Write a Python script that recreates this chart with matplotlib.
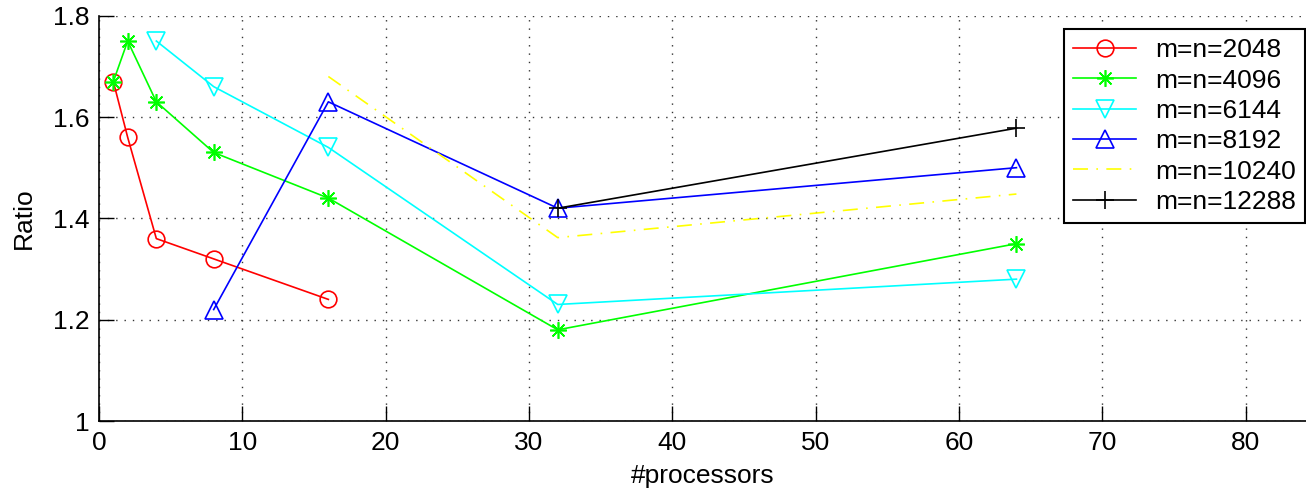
import matplotlib
matplotlib.use("Agg")
import matplotlib.pyplot as plt

plt.rcParams['font.family'] = ['Liberation Sans', 'DejaVu Sans']

labels = ["m=n=2048", "m=n=4096", "m=n=6144", "m=n=8192", "m=n=10240", "m=n=12288"]
x_2048 = [1, 2, 4, 8, 16]
y_2048 = [1.67, 1.56, 1.36, 1.32, 1.24]
x_4096 = [1, 2, 4, 8, 16, 32, 64]
y_4096 = [1.67, 1.75, 1.63, 1.53, 1.44, 1.18, 1.35]
x_6144 = [4, 8, 16, 32, 64]
y_6144 = [1.75, 1.66, 1.54, 1.23, 1.28]
x_8192 = [8, 16, 32, 64]
y_8192 = [1.22, 1.63, 1.42, 1.50]
x_10240 = [16, 32, 64]
y_10240 = [1.68, 1.362, 1.448]
x_12288 = [32, 64]
y_12288 = [1.42, 1.578]

xticks = [0, 10, 20, 30, 40, 50, 60, 70, 80]
yticks = [1, 1.2, 1.4, 1.6, 1.8]
ytick_labels = ["1", "1.2", "1.4", "1.6", "1.8"]

fs = 19
fig = plt.figure(figsize=(13.06, 4.94), dpi=100)
ax = fig.add_axes([99/1306, 73/494, 1 - 99/1306, (421-15.7)/494])

ms = 12
ax.plot(x_2048, y_2048, color='#ff0000', lw=1.2, marker='o', ms=ms, mfc='none', mew=1.2, label=labels[0])
ax.plot(x_4096, y_4096, color='#00ff00', lw=1.2, marker=(8, 2, 0), ms=ms, mew=1.2, label=labels[1])
ax.plot(x_6144, y_6144, color='#00ffff', lw=1.2, marker='v', ms=ms+1, mfc='none', mew=1.2, label=labels[2])
ax.plot(x_8192, y_8192, color='#0000ff', lw=1.2, marker='^', ms=ms+1, mfc='none', mew=1.2, label=labels[3])
ax.plot(x_10240, y_10240, color='#ffff00', lw=1.2, linestyle=(0, (9, 5, 1, 5)), label=labels[4])
ax.plot(x_12288, y_12288, color='#000000', lw=1.2, marker='+', ms=ms+1, mew=1.2, label=labels[5])

ax.set_xlim(0, 84.2)
ax.set_ylim(1, 1.8)
ax.set_xticks(xticks)
ax.set_yticks(yticks)
ax.set_yticklabels(ytick_labels)
ax.tick_params(direction='in', length=11, width=1, labelsize=fs, pad=7)
ax.grid(True, linestyle=(0, (1, 5)), color='#333333', lw=1)
for s in ['top', 'right']:
    ax.spines[s].set_visible(False)
for s in ['left', 'bottom']:
    ax.spines[s].set_linewidth(1.2)

ax.set_xlabel('#processors', fontsize=fs, labelpad=7)
ax.set_ylabel('Ratio', fontsize=fs, labelpad=12)

leg = ax.legend(loc='upper right', bbox_to_anchor=(1305/1306, 1 - 29/494),
                bbox_transform=fig.transFigure, fontsize=fs, fancybox=False,
                framealpha=1, edgecolor='black', handlelength=2.4,
                handletextpad=0.7, labelspacing=0.24, borderpad=0.35, borderaxespad=0)
leg.get_frame().set_linewidth(1.5)

fig.savefig('out.png', dpi=100)
